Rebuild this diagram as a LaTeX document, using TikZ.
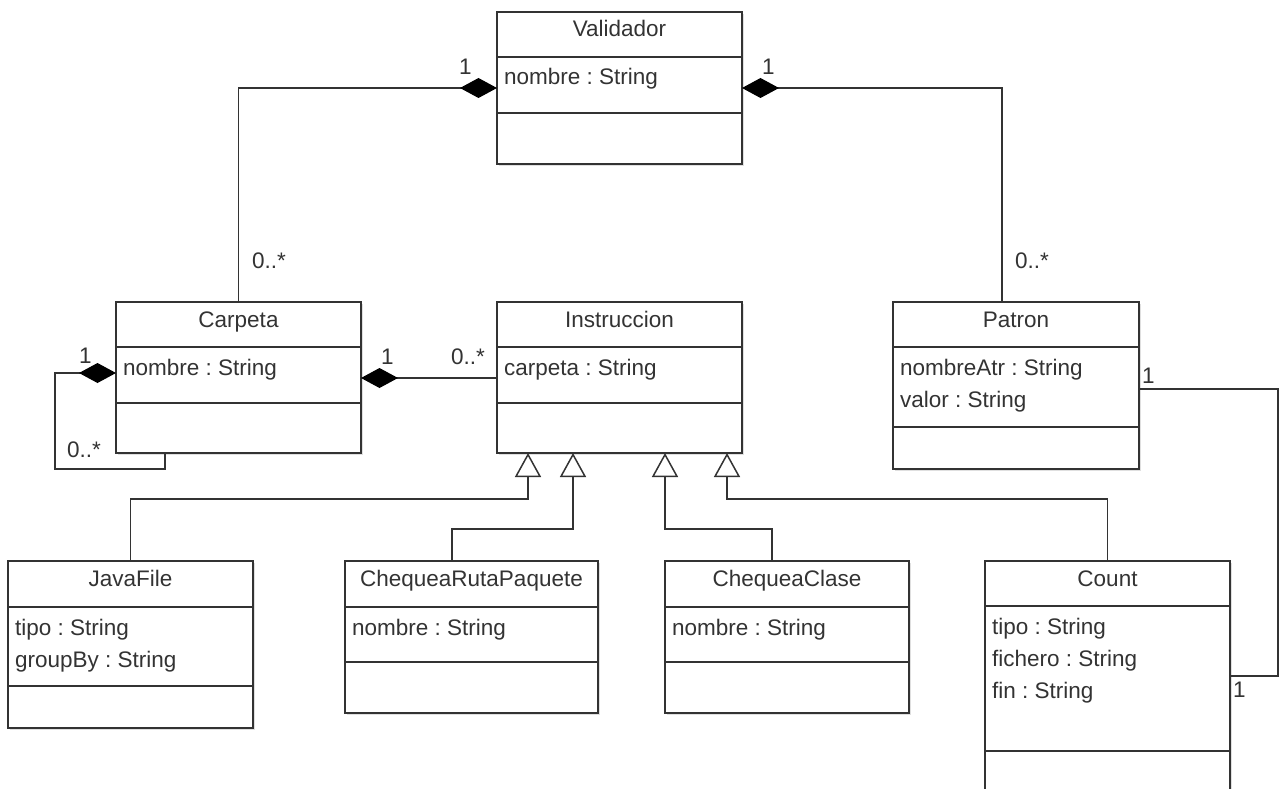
\documentclass[tikz,border=0pt]{standalone}
\usepackage{fontspec}
\setmainfont{Liberation Sans}
\usetikzlibrary{arrows.meta,shadows}
\definecolor{ink}{HTML}{333333}
\newcommand\umltxt{\fontsize{22.5}{26}\selectfont\frenchspacing}
\tikzset{
  cls/.style={draw=ink, line width=1.6pt, fill=white, inner sep=0pt, outer sep=0pt,
    drop shadow={opacity=0.25, shadow xshift=2pt, shadow yshift=-2pt}},
  clsline/.style={draw=ink, line width=1.6pt},
  ttl/.style={font=\umltxt, text=ink, inner sep=0pt, anchor=base},
  attr/.style={font=\umltxt, text=ink, inner sep=0pt, anchor=base west},
  mult/.style={font=\umltxt, text=ink, inner sep=0pt, anchor=base west},
  conn/.style={draw=ink, line width=1.5pt},
  comp/.style={conn, {Diamond[length=37pt, width=20pt, color=black]}-},
  gen/.style={conn, -{Triangle[open, length=24pt, width=26pt, fill=white]}},
}
% #1 name, #2 left, #3 top, #4 right, #5 bottom, #6 header divider, #7 attribute divider, #8 title
\newcommand\umlclass[8]{%
  \node[cls, minimum width={#4-#2}, minimum height={#5-#3}, anchor=north west] (#1) at (#2,#3) {};
  \draw[clsline] (#2,#6) -- (#4,#6);
  \draw[clsline] (#2,#7) -- (#4,#7);
  \node[ttl] (#1-t) at ({(#2+#4)/2},{#3+25}) {#8};
}
\begin{document}
\begin{tikzpicture}[x=1pt, y=-1pt]
\useasboundingbox (0,0) rectangle (1285,789);
\clip (0,0) rectangle (1285,789);
\fill[white] (0,0) rectangle (1285,789);

% classes
\umlclass{V}{497}{12}{742}{164}{57}{113}{Validador}
\node[attr] (V-a1) at (504,85) {nombre : String};

\umlclass{C}{116}{302}{361}{453}{347}{403}{Carpeta}
\node[attr] (C-a1) at (123,375) {nombre : String};

\umlclass{I}{497}{302}{742}{453}{347}{403}{Instruccion}
\node[attr] (I-a1) at (504,375) {carpeta : String};

\umlclass{P}{893}{302}{1139}{469}{347}{427}{Patron}
\node[attr] (P-a1) at (900,375) {nombreAtr : String};
\node[attr] (P-a2) at (900,407) {valor : String};

\umlclass{J}{8}{561}{253}{728}{607}{686}{JavaFile}
\node[attr] (J-a1) at (15,635) {tipo : String};
\node[attr] (J-a2) at (15,667) {groupBy : String};

\umlclass{R}{345}{561}{598}{713}{607}{662}{ChequeaRutaPaquete}
\node[attr] (R-a1) at (352,635) {nombre : String};

\umlclass{K}{665}{561}{909}{713}{607}{662}{ChequeaClase}
\node[attr] (K-a1) at (672,635) {nombre : String};

\umlclass{N}{985}{561}{1230}{830}{606}{751}{Count}
\node[attr] (N-a1) at (992,634) {tipo : String};
\node[attr] (N-a2) at (992,666) {fichero : String};
\node[attr] (N-a3) at (992,698) {fin : String};

% compositions
\draw[comp] ([yshift=-76pt]V.north west) -| (C.north);
\draw[comp] ([yshift=-76pt]V.north east) -| ([xshift=109pt]P.north west);
\draw[comp] ([yshift=-71pt]C.north west) -| ++(-61,96) -| ([xshift=49pt]C.south west);
\draw[comp] ([yshift=-76pt]C.north east) -- ([yshift=-76pt]I.north west);

% association Patron - Count
\draw[conn] ([yshift=-87pt]P.north east) -| ++(139,287) -- ([yshift=-115pt]N.north east);

% generalizations
\draw[gen] (J.north) |- ([xshift=31pt,yshift=-46pt]I.south west) -- ([xshift=31pt]I.south west);
\draw[gen] ([xshift=-19.5pt]R.north) |- ([xshift=76pt,yshift=-76pt]I.south west) -- ([xshift=76pt]I.south west);
\draw[gen] ([xshift=-15pt]K.north) |- ([xshift=168pt,yshift=-76pt]I.south west) -- ([xshift=168pt]I.south west);
\draw[gen] (N.north) |- ([xshift=230pt,yshift=-46pt]I.south west) -- ([xshift=230pt]I.south west);

% multiplicities
\node[mult] (m1) at (459,75) {1};
\node[mult] (m2) at (762,75) {1};
\node[mult] (m3) at (252,268) {0..*};
\node[mult] (m4) at (1015,268) {0..*};
\node[mult] (m5) at (79,363) {1};
\node[mult] (m6) at (67,457) {0..*};
\node[mult] (m7) at (381,364) {1};
\node[mult] (m8) at (451,364) {0..*};
\node[mult] (m9) at (1142,383) {1};
\node[mult] (m10) at (1233,697) {1};
\end{tikzpicture}
\end{document}
